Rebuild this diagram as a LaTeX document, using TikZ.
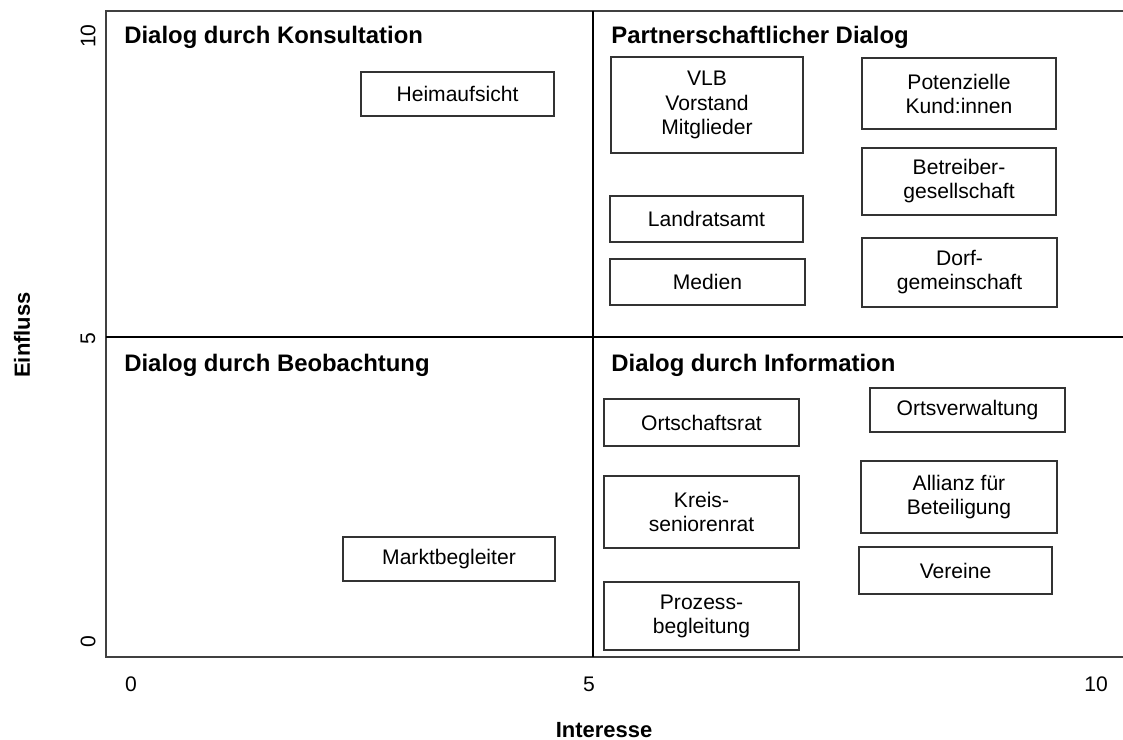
\documentclass[tikz,border=0pt]{standalone}
\usepackage{fontspec}
\setmainfont{Liberation Sans}
\usepackage{tikz}
\usetikzlibrary{
  positioning
  % ------
}

\begin{document}
\begin{tikzpicture}[x=0.02cm, y=-0.02cm,
    boxsize/.style 2 args={minimum width=#1*0.02cm, minimum height=#2*0.02cm},
    stakeholder/.style={draw=black!80, line width=0.8pt, inner sep=0pt,
      align=center, font=\fontsize{12}{13.7}\selectfont},
    quadrant/.style={anchor=base west, inner sep=0pt,
      font=\bfseries\fontsize{13.6}{16}\selectfont},
    ticklabel/.style={font=\fontsize{12}{14}\selectfont},
    axislabel/.style={font=\bfseries\fontsize{12.5}{15}\selectfont}]
  \useasboundingbox (0,0) rectangle (1123,740);

  % frame and quadrants
  \coordinate (TL) at (106,11);
  \coordinate (BL) at (106,657);
  \coordinate (TR) at (1123,11);
  \coordinate (BR) at (1123,657);
  \coordinate (Mt) at (593,11);
  \coordinate (Mb) at (593,657);
  \coordinate (Ml) at (106,337);
  \coordinate (Mr) at (1123,337);
  \draw [line width=1.1pt, black!75] (TR) -- (TL) -- (BL) -- (BR);
  \draw [line width=0.9pt] (Mt) -- (Mb);
  \draw [line width=0.9pt] (Ml) -- (Mr);

  % ticks
  \node [ticklabel, rotate=90] (y10) at (88,36) {10};
  \node [ticklabel, rotate=90] (y5) at (88,339) {5};
  \node [ticklabel, rotate=90] (y0) at (88,642) {0};
  \node [ticklabel] (x0) at (131,684) {0};
  \node [ticklabel] (x5) at (589,684) {5};
  \node [ticklabel] (x10) at (1096,684) {10};
  \node [axislabel, rotate=90] (ylab) at (22,335) {Einfluss};
  \node [axislabel] (xlab) at (604,730) {Interesse};

  % quadrant titles
  \node [quadrant] (q1) at (124,44) {Dialog durch Konsultation};
  \node [quadrant] (q2) at (611,44) {Partnerschaftlicher Dialog};
  \node [quadrant] (q3) at (124,371) {Dialog durch Beobachtung};
  \node [quadrant] (q4) at (611,371) {Dialog durch Information};

  % stakeholders
  \node [stakeholder, boxsize={193}{44}] (heim) at (457.5,94) {Heimaufsicht};
  \node [stakeholder, boxsize={192}{96}] (vlb) at (707,105) {VLB\\Vorstand\\Mitglieder};
  \node [stakeholder, boxsize={194}{71}] (kunden) at (959,93.5) {Potenzielle\\Kund:innen};
  \node [stakeholder, boxsize={194}{67}] (betreiber) at (959,181.5) {Betreiber-\\gesellschaft};
  \node [stakeholder, boxsize={193}{46}] (landrat) at (706.5,219) {Landratsamt};
  \node [stakeholder, boxsize={195}{46}] (medien) at (707.5,282) {Medien};
  \node [stakeholder, boxsize={195}{69}] (dorf) at (959.5,272.5) {Dorf-\\gemeinschaft};
  \node [stakeholder, boxsize={195}{47}] (ortschaft) at (701.5,422.5) {Ortschaftsrat};
  \node [stakeholder, boxsize={195}{44}] (ortsverw) at (967.5,410) {Ortsverwaltung};
  \node [stakeholder, boxsize={195}{72}] (kreis) at (701.5,512) {Kreis-\\seniorenrat};
  \node [stakeholder, boxsize={196}{72}] (allianz) at (959,497) {Allianz für\\Beteiligung};
  \node [stakeholder, boxsize={212}{44}] (markt) at (449,559) {Marktbegleiter};
  \node [stakeholder, boxsize={193}{47}] (vereine) at (955.5,570.5) {Vereine};
  \node [stakeholder, boxsize={195}{68}] (prozess) at (701.5,616) {Prozess-\\begleitung};
\end{tikzpicture}
\end{document}
